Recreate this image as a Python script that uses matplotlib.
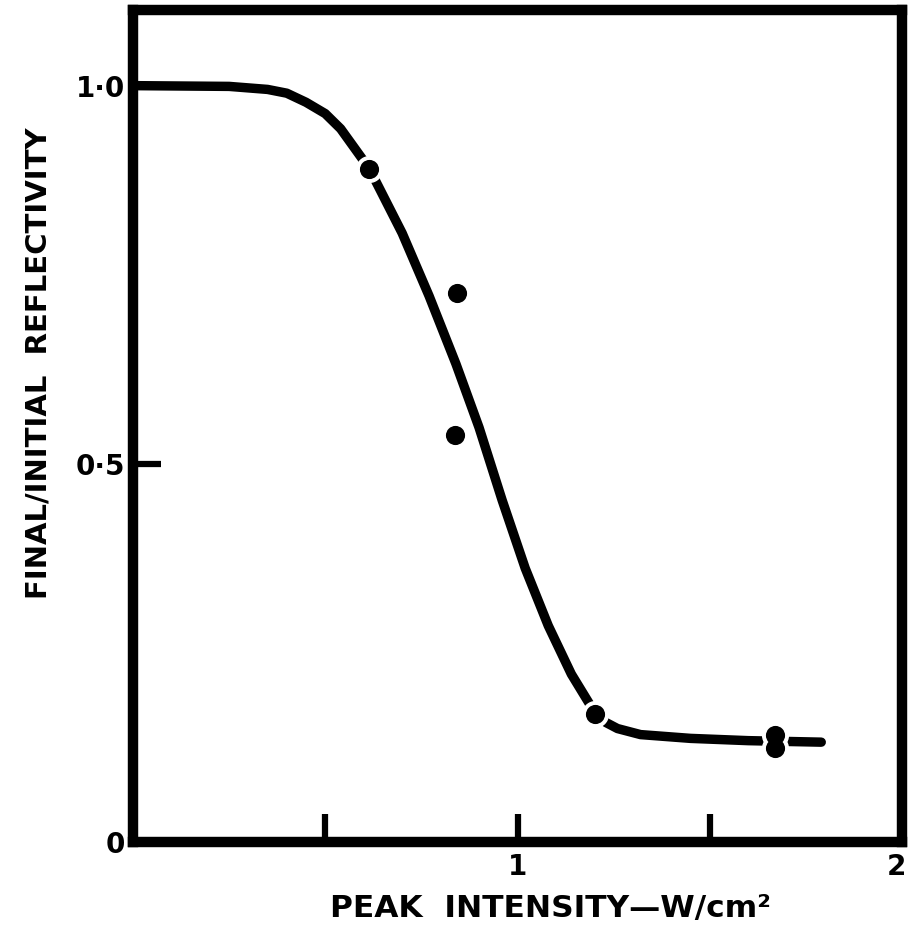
import matplotlib
matplotlib.use("Agg")
import matplotlib.pyplot as plt
from matplotlib.transforms import ScaledTranslation

# Fitted curve
curve_x = [0.0, 0.25, 0.35, 0.40, 0.45, 0.50, 0.54, 0.615, 0.70, 0.77, 0.84, 0.90,
           0.96, 1.02, 1.08, 1.14, 1.20, 1.23, 1.26, 1.32, 1.45, 1.60, 1.79]
curve_y = [1.0, 0.999, 0.995, 0.990, 0.978, 0.963, 0.943, 0.890, 0.805, 0.722, 0.632, 0.548,
           0.452, 0.362, 0.286, 0.222, 0.172, 0.158, 0.150, 0.142, 0.137, 0.134, 0.132]

# Measured points
pts_x = [0.615, 0.842, 0.837, 1.202, 1.671, 1.671]
pts_y = [0.890, 0.726, 0.538, 0.169, 0.142, 0.124]

xticks = [0.5, 1.0, 1.5, 2.0]
xticklabels = ["", "1", "", "2"]
yticks = [0.0, 0.5, 1.0]
yticklabels = ["0", "0·5", "1·0"]

fig = plt.figure(figsize=(9.10, 9.34), dpi=100)
ax = fig.add_axes([133 / 910, 92 / 934, 769 / 910, 832 / 934])

ax.plot(curve_x, curve_y, color="black", lw=6.8, solid_capstyle="round",
        solid_joinstyle="round", zorder=2)
# white halo around points, then the black points
ax.plot(pts_x, pts_y, "o", ms=18.5, color="white", mec="white", zorder=3)
ax.plot(pts_x, pts_y, "o", ms=13.8, color="black", mec="black", mew=0, zorder=4)

ax.set_xlim(0, 2)
ax.set_ylim(0, 1.1)

for s in ax.spines.values():
    s.set_linewidth(7.5)
    s.set_color("black")

ax.set_xticks(xticks)
ax.set_xticklabels(xticklabels)
ax.set_yticks(yticks)
ax.set_yticklabels(yticklabels)
ax.tick_params(axis="both", direction="in", length=20, width=4.5, color="black",
               labelsize=20, pad=6)
ax.tick_params(axis="x", pad=8)
for lab in ax.get_xticklabels() + ax.get_yticklabels():
    lab.set_fontweight("bold")
# nudge the "2" label inward so it sits like the reference
lab2 = ax.get_xticklabels()[-1]
lab2.set_transform(lab2.get_transform() + ScaledTranslation(-6 / 100, 0, fig.dpi_scale_trans))

ax.set_xlabel("PEAK  INTENSITY—W/cm²", fontsize=22.5, fontweight="bold")
ax.xaxis.set_label_coords(0.543, -0.063)
ax.set_ylabel("FINAL/INITIAL  REFLECTIVITY", fontsize=21, fontweight="bold")
ax.yaxis.set_label_coords(-0.105, 0.575)

fig.savefig("out.png", dpi=100, facecolor="white")
